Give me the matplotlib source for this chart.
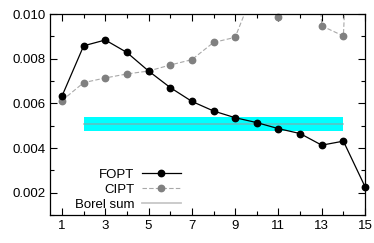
import numpy as np
import matplotlib
matplotlib.use('Agg')
import matplotlib.pyplot as plt
from matplotlib.ticker import MultipleLocator

plt.rcParams['font.family'] = ['Liberation Sans', 'DejaVu Sans']
plt.rcParams['font.size'] = 9.5

# perturbative orders
orders = np.arange(1, 16)

# fixed-order and contour-improved series
fopt = [0.00633, 0.00858, 0.00884, 0.00828, 0.00745, 0.00671, 0.00609, 0.00566,
        0.00536, 0.00514, 0.00487, 0.00465, 0.00413, 0.00431, 0.00227]
cipt = [0.00613, 0.00693, 0.00714, 0.00732, 0.00745, 0.00772, 0.00796, 0.00873,
        0.00896, 0.0114, 0.00987, 0.025, 0.00947, 0.00902, 0.03]

# Borel sum with its uncertainty band
borel_x = [2, 14]
borel_val = 0.00508
borel_lo = 0.00478
borel_hi = 0.00538

YMIN, YMAX = 0.001, 0.010

fig = plt.figure(figsize=(3.74, 2.43), dpi=100)
ax = fig.add_axes([0.134, 0.115, 0.842, 0.827])

ax.fill_between(borel_x, [borel_lo, borel_lo], [borel_hi, borel_hi],
                color='#00ffff', lw=0, zorder=1)
ax.plot(borel_x, [borel_val, borel_val], color='#999999', lw=1.3, alpha=0.55,
        zorder=2, label='Borel sum')

# CIPT: line clipped, points only where inside the range (drawn unclipped)
cipt = np.array(cipt)
ax.plot(orders, cipt, color='#a8a8a8', ls=(0, (4, 2)), lw=0.8, zorder=3)
inside = (cipt >= YMIN) & (cipt <= YMAX)
ax.plot(orders[inside], cipt[inside], ls='none', marker='o', ms=4.6,
        mfc='#808080', mec='#808080', zorder=3, clip_on=False)
cipt_handle, = ax.plot([], [], color='#a8a8a8', ls=(0, (4, 2)), lw=0.8,
                       marker='o', ms=4.6, mfc='#808080', mec='#808080')

fopt_handle, = ax.plot(orders, fopt, color='black', lw=0.9, marker='o', ms=4.6,
                       zorder=4, clip_on=False)

ax.set_xlim(0.45, 15)
ax.set_ylim(YMIN, YMAX)
ax.set_xticks(np.arange(1, 16, 2))
ax.xaxis.set_minor_locator(MultipleLocator(1))
ax.yaxis.set_major_locator(MultipleLocator(0.002))
ax.yaxis.set_minor_locator(MultipleLocator(0.001))
ax.yaxis.set_major_formatter(lambda v, p: '%.3f' % v)
ax.tick_params(which='both', direction='in', top=True, right=True, width=0.8)
ax.tick_params(which='major', length=5)
ax.tick_params(which='minor', length=3)
for s in ax.spines.values():
    s.set_linewidth(0.9)
    s.set_zorder(5)

borel_handle = ax.get_lines()[0]
ax.legend([fopt_handle, cipt_handle, borel_handle], ['FOPT', 'CIPT', 'Borel sum'],
          loc='lower right', bbox_to_anchor=(0.415, 0.02), frameon=False,
          markerfirst=False, handlelength=2.95, handletextpad=0.55,
          labelspacing=0.22, borderpad=0, borderaxespad=0)

fig.savefig('out.png', dpi=100)
